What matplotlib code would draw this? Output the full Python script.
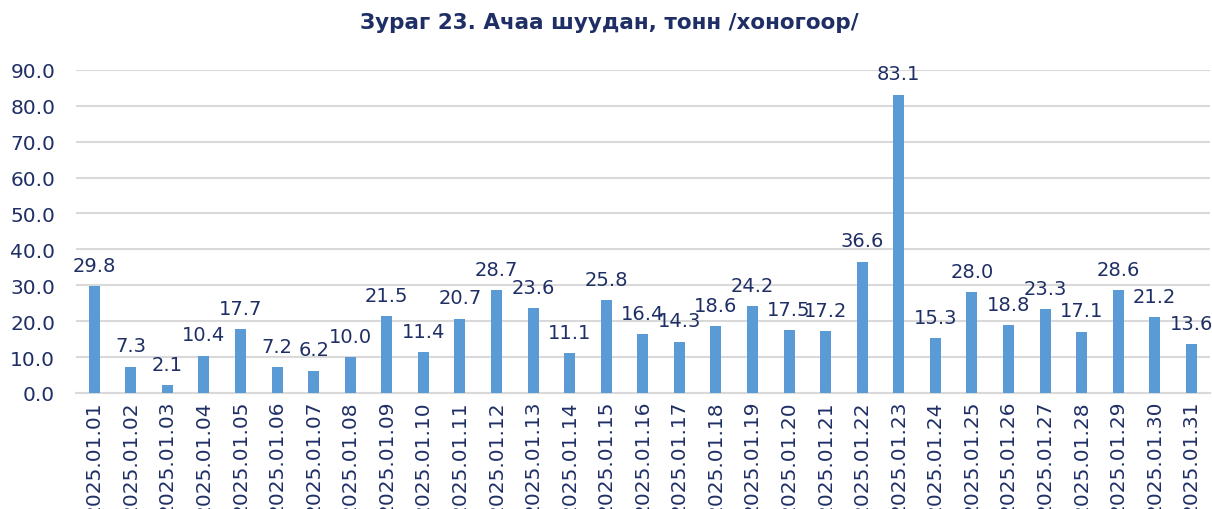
import matplotlib.pyplot as plt
import numpy as np

dates = ["2025.01.%02d" % d for d in range(1, 32)]
values = [29.8, 7.3, 2.1, 10.4, 17.7, 7.2, 6.2, 10.0, 21.5, 11.4,
          20.7, 28.7, 23.6, 11.1, 25.8, 16.4, 14.3, 18.6, 24.2, 17.5,
          17.2, 36.6, 83.1, 15.3, 28.0, 18.8, 23.3, 17.1, 28.6, 21.2, 13.6]

navy = "#1F2F66"
plt.rcParams["font.family"] = ["DejaVu Sans"]

fig = plt.figure(figsize=(12.12, 5.10), dpi=100)
ax = fig.add_axes([0.0627, 0.2275, 0.9353, 0.6335])

x = np.arange(len(values))
bars = ax.bar(x, values, width=0.3, color="#5B9BD5", zorder=3)

for b, v in zip(bars, values):
    ax.annotate("%.1f" % v, (b.get_x() + b.get_width() / 2, v),
                xytext=(0, 11), textcoords="offset points",
                ha="center", va="baseline", fontsize=14, color=navy)

ax.set_xlim(-0.5, len(values) - 0.5)
ax.set_ylim(0, 90)
ax.set_yticks(np.arange(0, 91, 10))
ax.set_yticklabels(["%.1f" % t for t in np.arange(0, 91, 10)])
ax.set_xticks(x)
ax.set_xticklabels(dates, rotation=90)
ax.tick_params(axis="both", length=0, labelsize=14.5, labelcolor=navy)
ax.tick_params(axis="y", pad=15)
ax.tick_params(axis="x", pad=5)
ax.grid(axis="y", color="#D9D9D9", linewidth=1.5, zorder=0)
for s in ["top", "right", "left"]:
    ax.spines[s].set_visible(False)
ax.spines["bottom"].set_color("#D9D9D9")
ax.spines["bottom"].set_linewidth(1.5)

fig.text(0.503, 0.955, "Зураг 23. Ачаа шуудан, тонн /хоногоор/",
         ha="center", va="center", fontsize=15.5, fontweight="bold", color=navy)

fig.savefig("out.png", dpi=100)
